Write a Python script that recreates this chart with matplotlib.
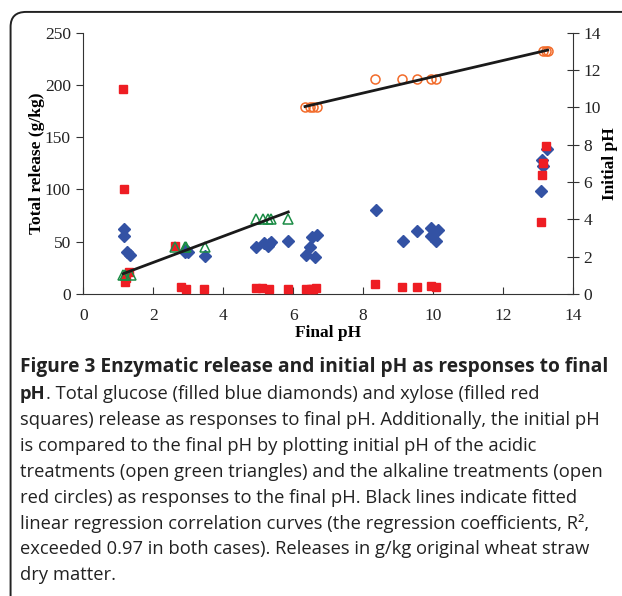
import matplotlib
matplotlib.use("Agg")
import matplotlib.pyplot as plt
import numpy as np
from matplotlib.patches import FancyBboxPatch

# glucose release (blue diamonds), g/kg
glu_x = [1.16, 1.17, 1.24, 1.33, 2.9, 2.95, 3.0, 3.48, 4.95, 5.17, 5.27, 5.31, 5.38, 5.86,
         6.36, 6.48, 6.55, 6.62, 6.67, 8.36, 9.13, 9.55, 9.95, 9.95, 10.1, 10.14,
         13.1, 13.13, 13.16, 13.26]
glu_y = [62, 55, 40.5, 37, 40.5, 42, 40, 36.5, 44.6, 49, 46, 47.8, 50, 50.4,
         37.6, 45, 54, 35, 56, 80, 50.4, 60, 63.4, 55.5, 51, 61,
         98.5, 128, 122, 139]

# xylose release (red squares), g/kg
xyl_x = [1.14, 1.16, 1.18, 1.21, 1.31, 2.62, 2.79, 2.93, 3.45, 4.95, 5.1, 5.31, 5.86,
         6.38, 6.5, 6.57, 6.65, 8.34, 9.1, 9.55, 9.94, 10.1, 13.08, 13.12, 13.14, 13.22]
xyl_y = [196, 100.4, 11.8, 15, 21, 46, 7, 4.8, 4.5, 5.5, 5.5, 4.5, 4.5,
         4.5, 5, 5, 5.5, 9.6, 7, 7, 7.6, 7, 69, 114, 125.5, 141.5]

# initial pH, acidic treatments (open green triangles)
acid_x = [1.14, 1.2, 1.35, 2.62, 2.9, 2.95, 3.48, 4.95, 5.14, 5.27, 5.38, 5.86]
acid_y = [1.0, 1.0, 1.0, 2.5, 2.5, 2.5, 2.5, 4.0, 4.0, 4.0, 4.0, 4.0]

# initial pH, alkaline treatments (open red circles)
alk_x = [6.34, 6.48, 6.57, 6.67, 8.33, 9.1, 9.53, 9.93, 10.1, 13.14, 13.22, 13.28]
alk_y = [10, 10, 10, 10, 11.5, 11.5, 11.5, 11.5, 11.5, 13, 13, 13]

caption = [
    "pH",
    ". Total glucose (filled blue diamonds) and xylose (filled red",
    "squares) release as responses to final pH. Additionally, the initial pH",
    "is compared to the final pH by plotting initial pH of the acidic",
    "treatments (open green triangles) and the alkaline treatments (open",
    "red circles) as responses to the final pH. Black lines indicate fitted",
    "linear regression correlation curves (the regression coefficients, R\u00b2,",
    "exceeded 0.97 in both cases). Releases in g/kg original wheat straw",
    "dry matter.",
]
title = "Figure 3 Enzymatic release and initial pH as responses to final"

serif = "Liberation Serif"
sans = "Open Sans"

fig = plt.figure(figsize=(6.22, 5.96), dpi=100)
ax = fig.add_axes([0.134, 0.507, 0.787, 0.438])
ax2 = ax.twinx()

ax.plot(glu_x, glu_y, linestyle="none", marker="D", markersize=6,
        color="#3352a4", zorder=3)
ax.plot(xyl_x, xyl_y, linestyle="none", marker="s", markersize=5.5,
        color="#ee1d23", zorder=4)
ax2.plot(acid_x, acid_y, linestyle="none", marker="^", markersize=7,
         markerfacecolor="none", markeredgecolor="#1b8c45", markeredgewidth=1.1)
ax2.plot(alk_x, alk_y, linestyle="none", marker="o", markersize=6.5,
         markerfacecolor="none", markeredgecolor="#f26b2a", markeredgewidth=1.1)

# regression lines
for xs, ys in [(acid_x, acid_y), (alk_x, alk_y)]:
    k, b = np.polyfit(xs, ys, 1)
    xx = np.array([min(xs), max(xs)])
    ax2.plot(xx, k * xx + b, color="#1a1a1a", linewidth=2)

ax.set_xlim(0, 14)
ax.set_ylim(0, 250)
ax2.set_ylim(0, 14)
ax.set_xticks(range(0, 15, 2))
ax.set_yticks(range(0, 251, 50))
ax2.set_yticks(range(0, 15, 2))

for a in (ax, ax2):
    a.spines["top"].set_visible(False)
    for s in a.spines.values():
        s.set_color("#333333")
ax.spines["right"].set_visible(False)
ax2.spines["left"].set_visible(False)
ax2.spines["bottom"].set_visible(False)

ax.tick_params(axis="y", direction="out", length=5, color="#333333", pad=4)
ax.tick_params(axis="x", direction="in", length=5, color="#333333", pad=10)
ax2.tick_params(axis="y", direction="inout", length=9, color="#333333", pad=3)
for lab in ax.get_xticklabels() + ax.get_yticklabels() + ax2.get_yticklabels():
    lab.set_fontfamily(serif)
    lab.set_fontsize(12.5)
    lab.set_color("#222222")

ax.set_xlabel("Final pH", fontfamily=serif, fontweight="bold", fontsize=12.5, labelpad=1)
ax.set_ylabel("Total release (g/kg)", fontfamily=serif, fontweight="bold", fontsize=12.5, labelpad=0)
ax2.set_ylabel("Initial pH", fontfamily=serif, fontweight="bold", fontsize=12.5, labelpad=1)

# frame round the figure
box = FancyBboxPatch((0.017, -0.1), 1.2, 1.08, boxstyle="round,pad=0,rounding_size=0.025",
                     transform=fig.transFigure, facecolor="none", edgecolor="#222222",
                     linewidth=1.4, clip_on=False)
fig.patches.append(box)

# caption
fs = 13.2
fig.text(0.032, 1 - 367 / 596, title, fontfamily=sans, fontweight="bold",
         fontsize=13.8, va="center", color="#222222")
y0 = 1 - 394 / 596
t1 = fig.text(0.032, y0, caption[0], fontfamily=sans, fontweight="bold",
              fontsize=fs, va="center", color="#222222")
fig.add_artist(plt.Annotation(caption[1], xy=(1, 0), xycoords=t1, va="bottom",
                              fontfamily=sans, fontsize=fs, color="#222222"))
for i, line in enumerate(caption[2:]):
    fig.text(0.032, 1 - (420 + 25.9 * i) / 596, line, fontfamily=sans,
             fontsize=fs, va="center", color="#222222")

fig.savefig("out.png", dpi=100)
